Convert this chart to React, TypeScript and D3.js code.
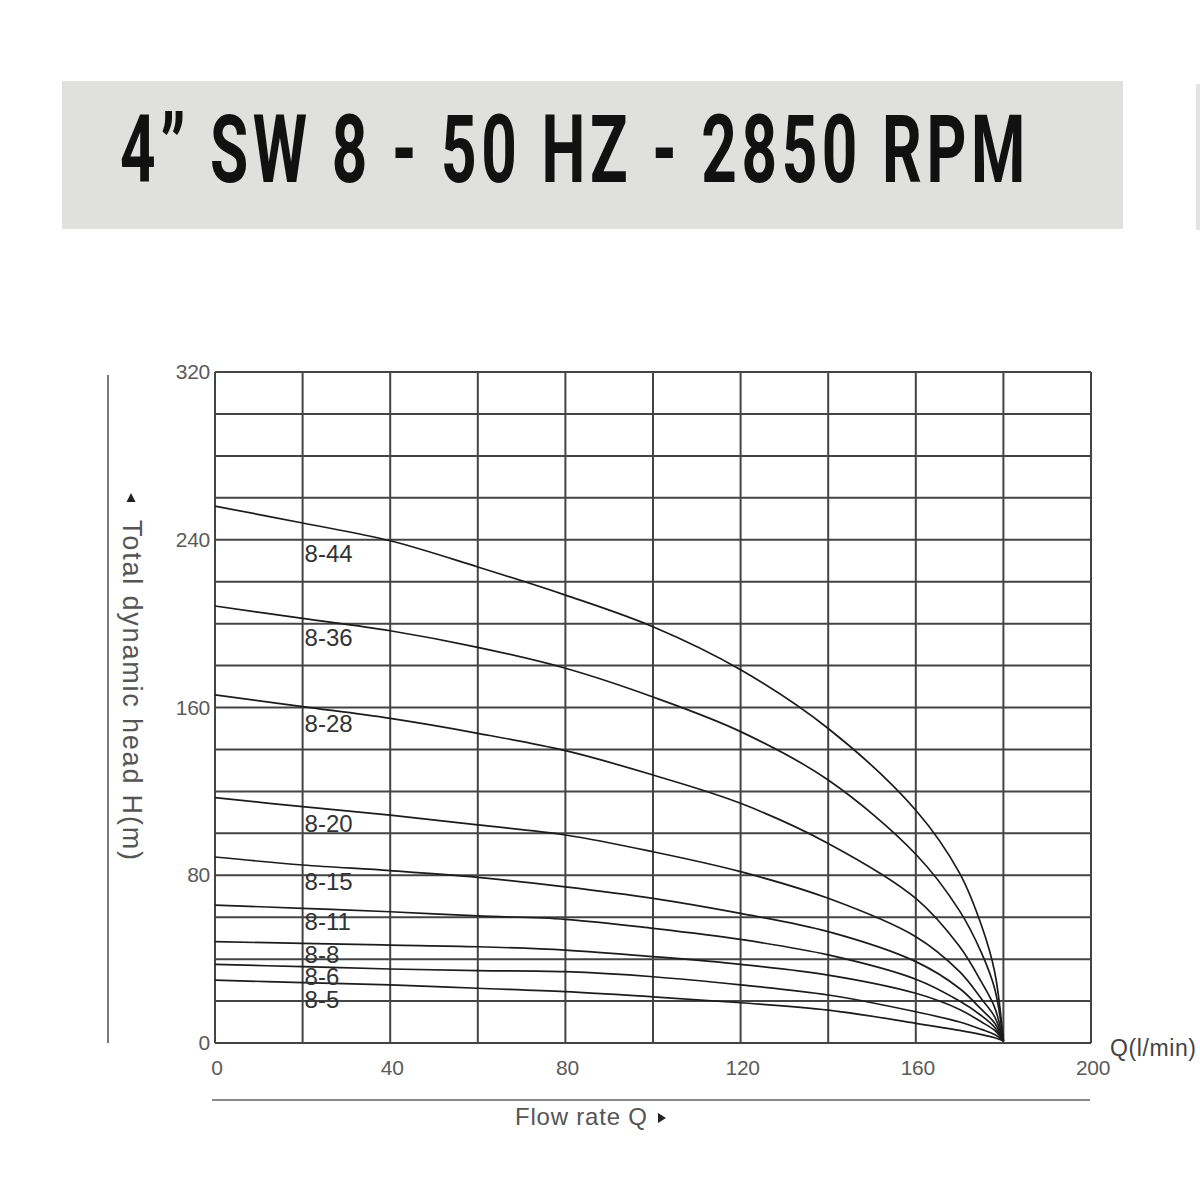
import * as d3 from 'd3';

// ── Data ──────────────────────────────────────────────────────────────────
const flowQ = [0, 20, 40, 60, 80, 100, 120, 140, 160, 170, 175, 178, 180];

const models = ['8-44', '8-36', '8-28', '8-20', '8-15', '8-11', '8-8', '8-6', '8-5'];

const head44 = [256, 248, 239.5, 227, 213.6, 198.5, 178, 150, 111, 81, 56, 34, 1];
const head36 = [208.4, 202.5, 196.6, 188.7, 178.7, 165, 148.5, 125.4, 90, 63, 43, 26, 1];
const head28 = [166, 160.4, 154.8, 147.7, 139.4, 127.8, 114.3, 95.2, 69, 46, 29, 17, 1];
const head20 = [117, 112.7, 108.7, 104, 99.2, 91.2, 81.7, 69, 50.7, 34, 21, 12.5, 1];
const head15 = [88.7, 84.9, 82.2, 79, 74.5, 69, 61.8, 53.1, 38.8, 26, 16, 9.5, 1];
const head11 = [65.8, 64.2, 62.6, 60.6, 59, 54.7, 49.4, 42, 30.4, 20, 13, 7.5, 1];
const head8 = [48.3, 47.5, 46.7, 45.9, 44.3, 41.2, 37.5, 32.4, 23.7, 16, 10, 6, 1];
const head6 = [37.5, 36.4, 35.3, 34.5, 34, 31.6, 27.7, 22.9, 14.9, 10, 6.5, 4, 1];
const head5 = [30, 28.8, 27.7, 26.1, 24.5, 22, 19.2, 15.7, 9.4, 6, 4, 2.5, 1];

const heads = [head44, head36, head28, head20, head15, head11, head8, head6, head5];

// where each model name sits (flow, head of the label's centre)
const labelQ = 20;
const labelHead = [233.7, 193.6, 152.6, 105, 77.3, 58.2, 42.4, 32, 21];

const xTickLabels = [0, 40, 80, 120, 160, 200];
const yTickLabels = [0, 80, 160, 240, 320];

const TITLE = '4” SW 8 - 50 HZ - 2850 RPM';

const x = d3.scaleLinear().domain([0, 200]).range([215, 1091]);
const y = d3.scaleLinear().domain([0, 320]).range([1043, 372]);

const line = d3
  .line<[number, number]>()
  .x(d => x(d[0]))
  .y(d => y(d[1]))
  .curve(d3.curveCatmullRom.alpha(0.5));

const FONT = '"Liberation Sans", Arial, sans-serif';

export default function App() {
  const xGrid = x.ticks(10);
  const yGrid = y.ticks(16);

  return (
    <svg
      width={1200}
      height={1200}
      style={{ position: 'absolute', left: 0, top: 0, background: '#fff' }}
    >
      {/* ── Title banner ── */}
      <rect x={62} y={81} width={1061} height={148} fill="#e0e0df" />
      <rect x={1196} y={84} width={8} height={146} fill="#e4e4e4" />
      <text
        x={120}
        y={182}
        fontFamily="Roboto, sans-serif"
        fontWeight={700}
        fontSize={95}
        letterSpacing={7}
        fill="#111"
        textLength={910}
        lengthAdjust="spacingAndGlyphs"
      >
        {TITLE}
      </text>

      {/* ── Grid ── */}
      <g stroke="#444" strokeWidth={2}>
        {xGrid.map(v => (
          <line key={`gx${v}`} x1={x(v)} x2={x(v)} y1={y(320)} y2={y(0)} />
        ))}
        {yGrid.map(v => (
          <line key={`gy${v}`} x1={x(0)} x2={x(200)} y1={y(v)} y2={y(v)} />
        ))}
      </g>

      {/* ── Tick labels ── */}
      <g fontFamily={FONT} fontSize={21} fill="#5a5a5a">
        {yTickLabels.map(v => (
          <text key={`yl${v}`} x={210} y={y(v) + 7} textAnchor="end" letterSpacing={-0.3}>
            {v}
          </text>
        ))}
        {xTickLabels.map(v => (
          <text key={`xl${v}`} x={x(v) + 2} y={1075} textAnchor="middle" letterSpacing={-0.3}>
            {v}
          </text>
        ))}
        <text x={1110} y={1056} fill="#444" fontSize={23} letterSpacing={0.6}>
          Q(l/min)
        </text>
      </g>

      {/* ── Pump curves ── */}
      <g fill="none" stroke="#1c1c1c" strokeWidth={1.7}>
        {heads.map((h, i) => (
          <path
            key={models[i]}
            d={line(flowQ.map((q, j) => [q, h[j]] as [number, number])) ?? ''}
          />
        ))}
      </g>

      {/* ── Model labels ── */}
      <g fontFamily={FONT} fontSize={24} fill="#333">
        {models.map((m, i) => (
          <text key={`ml${m}`} x={x(labelQ) + 2} y={y(labelHead[i]) + 9}>
            {m}
          </text>
        ))}
      </g>

      {/* ── Y axis title ── */}
      <line x1={108} x2={108} y1={375} y2={1043} stroke="#7a7a7a" strokeWidth={2} />
      <path d="M131,493 L135.5,502 L126.5,502 Z" fill="#222" />
      <text
        transform="translate(123,520) rotate(90)"
        fontFamily={FONT}
        fontSize={27}
        fill="#555"
        textLength={340}
        lengthAdjust="spacing"
      >
        Total dynamic head H(m)
      </text>

      {/* ── X axis title ── */}
      <line x1={212} x2={1090} y1={1100} y2={1100} stroke="#8a8a8a" strokeWidth={2} />
      <text
        x={515}
        y={1125}
        fontFamily={FONT}
        fontSize={24}
        fill="#555"
        textLength={132}
        lengthAdjust="spacing"
      >
        Flow rate Q
      </text>
      <path d="M658,1113 L666,1118 L658,1123 Z" fill="#222" />
    </svg>
  );
}
